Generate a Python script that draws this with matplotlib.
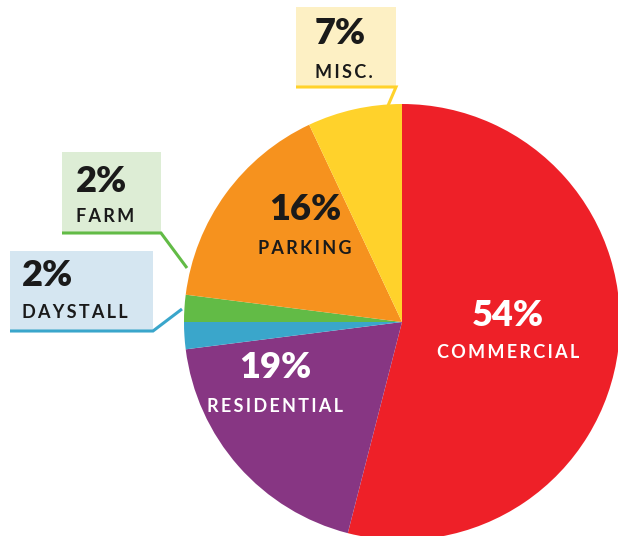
import matplotlib
matplotlib.use("Agg")
import matplotlib.pyplot as plt
from matplotlib.patches import Rectangle

# data
categories = ["COMMERCIAL", "RESIDENTIAL", "DAYSTALL", "FARM", "PARKING", "MISC."]
shares = [54, 19, 2, 2, 16, 7]
colors = ["#EE2028", "#873683", "#3AA6CB", "#62BB46", "#F6921E", "#FFD22B"]
box_colors = {"DAYSTALL": "#D5E6F1", "FARM": "#DDEDD5", "MISC.": "#FDF0C4"}

W, H = 618, 536
FONT = ["Lato", "DejaVu Sans"]
DARK = "#1a1a1a"


def Y(y):
    # pixel row (top-down) -> data y (bottom-up)
    return H - y


def spaced(s):
    return "\u2009".join(s)


fig = plt.figure(figsize=(W / 100, H / 100), dpi=100)
ax = fig.add_axes([0, 0, 1, 1])

ax.pie(shares, colors=colors, startangle=90, counterclock=False,
       center=(402, Y(322)), radius=218, frame=True,
       wedgeprops=dict(linewidth=0))

ax.set_xlim(0, W)
ax.set_ylim(0, H)
ax.set_aspect("equal")
ax.axis("off")

# labels inside slices
inside = {
    "COMMERCIAL": (508, 315, 353, "white"),
    "RESIDENTIAL": (275, 367, 406, "white"),
    "PARKING": (305, 210, 248, DARK),
}
for cat, (x, y1, y2, c) in inside.items():
    v = shares[categories.index(cat)]
    ax.text(x, Y(y1), f"{v}%", color=c, fontsize=26, fontweight="heavy",
            family=FONT, ha="center", va="center")
    ax.text(x, Y(y2), spaced(cat), color=c, fontsize=13, fontweight="bold",
            family=FONT, ha="center", va="center")

# callout boxes: (x0, y0, x1, y1, text x, pct y, name y, leader end)
callouts = {
    "MISC.": (296, 7, 396, 87, 315, 34, 72, (387, 108)),
    "FARM": (62, 152, 161, 233, 76, 181, 217, (187, 268)),
    "DAYSTALL": (10, 251, 153, 331, 22, 276, 313, (182, 309)),
}
for cat, (x0, y0, x1, y1, tx, py, ny, end) in callouts.items():
    i = categories.index(cat)
    ax.add_patch(Rectangle((x0, Y(y1)), x1 - x0, y1 - y0,
                           facecolor=box_colors[cat], edgecolor="none", zorder=1))
    ax.plot([x0, x1, end[0]], [Y(y1), Y(y1), Y(end[1])], color=colors[i],
            lw=2.2, solid_capstyle="butt", solid_joinstyle="miter", zorder=2)
    ax.text(tx, Y(py), f"{shares[i]}%", color=DARK, fontsize=26, fontweight="heavy",
            family=FONT, ha="left", va="center", zorder=3)
    ax.text(tx, Y(ny), spaced(cat), color=DARK, fontsize=13, fontweight="bold",
            family=FONT, ha="left", va="center", zorder=3)

fig.savefig("out.png", dpi=100)
